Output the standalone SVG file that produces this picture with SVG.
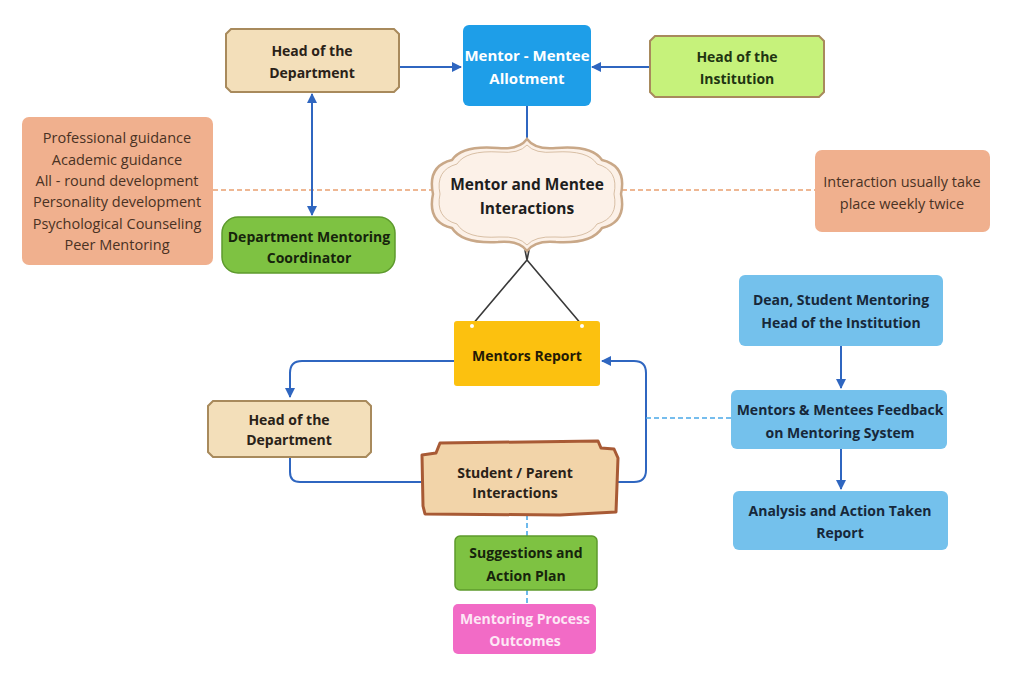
<svg xmlns="http://www.w3.org/2000/svg" width="1024" height="680" viewBox="0 0 1024 680">
<defs>
<marker id="ah" viewBox="0 0 10 10" refX="9" refY="5" markerWidth="5" markerHeight="5" orient="auto-start-reverse" markerUnits="strokeWidth">
<path d="M0,0 L10,5 L0,10 z" fill="#2f66c0"/>
</marker>
<style>
text{font-family:"Open Sans","Liberation Sans",sans-serif;text-anchor:middle;dominant-baseline:central}
.b{font-weight:700;font-size:14px;fill:#2a2218}
.r{font-size:14.5px;fill:#4a3224}
.w{font-weight:700;font-size:15px;fill:#ffffff}
.tan{fill:#f3dfba;stroke:#a88a5c;stroke-width:2}
.blue{fill:#1e9ee8}
.lb{fill:#74c1ec}
.green{fill:#7ec242;stroke:#5d9a2c;stroke-width:1.5}
.org{fill:#f0b08e}
.conn{fill:none;stroke:#2f66c0;stroke-width:2}
.dsh{fill:none;stroke:#e9a070;stroke-width:1.6;stroke-dasharray:5 3}
.dshb{fill:none;stroke:#4aa8e8;stroke-width:1.6;stroke-dasharray:5 3}
.hang{fill:none;stroke:#3a3a3a;stroke-width:1.6}
</style>
</defs>
<rect width="1024" height="680" fill="#ffffff"/>

<g id="connectors">
<line class="dsh" x1="213" y1="190" x2="432" y2="190"/>
<line class="dsh" x1="622" y1="190" x2="815" y2="190"/>
<line class="conn" x1="400" y1="67" x2="461" y2="67" marker-end="url(#ah)"/>
<line class="conn" x1="650" y1="67" x2="592" y2="67" marker-end="url(#ah)"/>
<line class="conn" x1="527" y1="106" x2="527" y2="140"/>
<line class="conn" x1="312" y1="215" x2="312" y2="94" marker-start="url(#ah)" marker-end="url(#ah)"/>
<path class="hang" d="M525,250 L527,260 L529,250 M527,260 L472,325 M527,260 L582,325"/>
<path class="conn" d="M454,361 L302,361 Q290,361 290,373 L290,397" marker-end="url(#ah)"/>
<path class="conn" d="M290,457 L290,472 Q290,482 300,482 L424,482"/>
<path class="conn" d="M616,482 L634,482 Q646,482 646,470 L646,373 Q646,361 634,361 L602,361" marker-end="url(#ah)"/>
<line class="dshb" x1="646" y1="418" x2="731" y2="418"/>
<line class="conn" x1="841" y1="346" x2="841" y2="388" marker-end="url(#ah)"/>
<line class="conn" x1="841" y1="449" x2="841" y2="489" marker-end="url(#ah)"/>
<line class="dshb" x1="527" y1="515" x2="527" y2="537"/>
<line class="dshb" x1="527" y1="590" x2="527" y2="604"/>
</g>

<g id="hod-top">
<path class="tan" d="M231,29 L394,29 L399,34 L399,87 L394,92 L231,92 L226,87 L226,34 Z"/>
<text class="b" x="312" y="50">Head of the</text>
<text class="b" x="312" y="72">Department</text>
</g>

<g id="allotment">
<rect class="blue" x="463" y="25" width="128" height="81" rx="6"/>
<text class="w" x="527" y="55">Mentor - Mentee</text>
<text class="w" x="527" y="78">Allotment</text>
</g>

<g id="hoi-top">
<path d="M655,36 L819,36 L824,41 L824,92 L819,97 L655,97 L650,92 L650,41 Z" fill="#c6f27b" stroke="#a88a5c" stroke-width="2"/>
<text class="b" x="737" y="56" style="fill:#1f3512">Head of the</text>
<text class="b" x="737" y="78" style="fill:#1f3512">Institution</text>
</g>

<g id="benefits">
<rect class="org" x="22" y="117" width="191" height="148" rx="7"/>
<text class="r" x="117" y="137">Professional guidance</text>
<text class="r" x="117" y="159">Academic guidance</text>
<text class="r" x="117" y="180">All - round development</text>
<text class="r" x="117" y="201">Personality development</text>
<text class="r" x="117" y="223">Psychological Counseling</text>
<text class="r" x="117" y="244">Peer Mentoring</text>
</g>

<g id="dmc">
<rect class="green" x="222" y="217" width="173" height="56" rx="16"/>
<text class="b" x="309" y="236" style="fill:#16240c">Department Mentoring</text>
<text class="b" x="309" y="257" style="fill:#16240c">Coordinator</text>
</g>

<g id="interactions">
<path d="M527,139 Q535,150 556,148 Q592,145 602,160 Q627,166 621,194 Q627,222 602,228 Q592,244 556,242 Q535,240 527,251 Q519,240 498,242 Q462,244 452,228 Q427,222 433,194 Q427,166 452,160 Q462,145 498,148 Q519,150 527,139 Z" fill="#fcf1e8" stroke="#c9a888" stroke-width="2.5"/>
<path d="M527,145 Q535,154 555,152 Q588,150 597,164 Q619,170 614,194 Q619,218 597,224 Q588,239 555,237 Q535,236 527,245 Q519,236 499,237 Q466,239 457,224 Q435,218 440,194 Q435,170 457,164 Q466,150 499,152 Q519,154 527,145 Z" fill="none" stroke="#d8bfa5" stroke-width="1"/>
<text class="b" x="527" y="184" style="font-size:15.5px;fill:#1e1e1e">Mentor and Mentee</text>
<text class="b" x="527" y="208" style="font-size:15.5px;fill:#1e1e1e">Interactions</text>
</g>

<g id="frequency">
<rect class="org" x="815" y="150" width="175" height="82" rx="7"/>
<text class="r" x="902" y="181">Interaction usually take</text>
<text class="r" x="902" y="203">place weekly twice</text>
</g>

<g id="mentors-report">
<rect x="454" y="321" width="146" height="65" rx="3" fill="#fcc10f"/>
<circle cx="472" cy="326" r="2" fill="#ffffff"/>
<circle cx="582" cy="326" r="2" fill="#ffffff"/>
<text class="b" x="527" y="355" style="fill:#241a05">Mentors Report</text>
</g>

<g id="hod-bottom">
<path class="tan" d="M213,401 L366,401 L371,406 L371,452 L366,457 L213,457 L208,452 L208,406 Z"/>
<text class="b" x="289" y="419">Head of the</text>
<text class="b" x="289" y="439">Department</text>
</g>

<g id="student-parent">
<path d="M440,443 L598,441 L601,448 L614,449 L618,458 L616,512 L560,515 L425,514 L423,506 L422,455 L436,453 Z" fill="#f2d4a9" stroke="#a85a35" stroke-width="3" stroke-linejoin="round"/>
<text class="b" x="515" y="472">Student / Parent</text>
<text class="b" x="515" y="492">Interactions</text>
</g>

<g id="suggestions">
<rect class="green" x="455" y="536" width="142" height="54" rx="5"/>
<text class="b" x="526" y="552" style="fill:#16240c">Suggestions and</text>
<text class="b" x="526" y="575" style="fill:#16240c">Action Plan</text>
</g>

<g id="outcomes">
<rect x="453" y="604" width="143" height="50" rx="5" fill="#f26bc6"/>
<text class="w" x="525" y="618" style="font-size:14px;fill:#fde7f5">Mentoring Process</text>
<text class="w" x="525" y="640" style="font-size:14px;fill:#fde7f5">Outcomes</text>
</g>

<g id="dean">
<rect class="lb" x="739" y="275" width="204" height="71" rx="6"/>
<text class="b" x="841" y="299" style="fill:#17283a">Dean, Student Mentoring</text>
<text class="b" x="841" y="322" style="fill:#17283a">Head of the Institution</text>
</g>

<g id="feedback">
<rect class="lb" x="731" y="390" width="216" height="59" rx="6"/>
<text class="b" x="840" y="409" style="fill:#17283a">Mentors &amp; Mentees Feedback</text>
<text class="b" x="840" y="432" style="fill:#17283a">on Mentoring System</text>
</g>

<g id="analysis">
<rect class="lb" x="733" y="491" width="215" height="59" rx="6"/>
<text class="b" x="840" y="510" style="fill:#17283a">Analysis and Action Taken</text>
<text class="b" x="840" y="532" style="fill:#17283a">Report</text>
</g>
</svg>
